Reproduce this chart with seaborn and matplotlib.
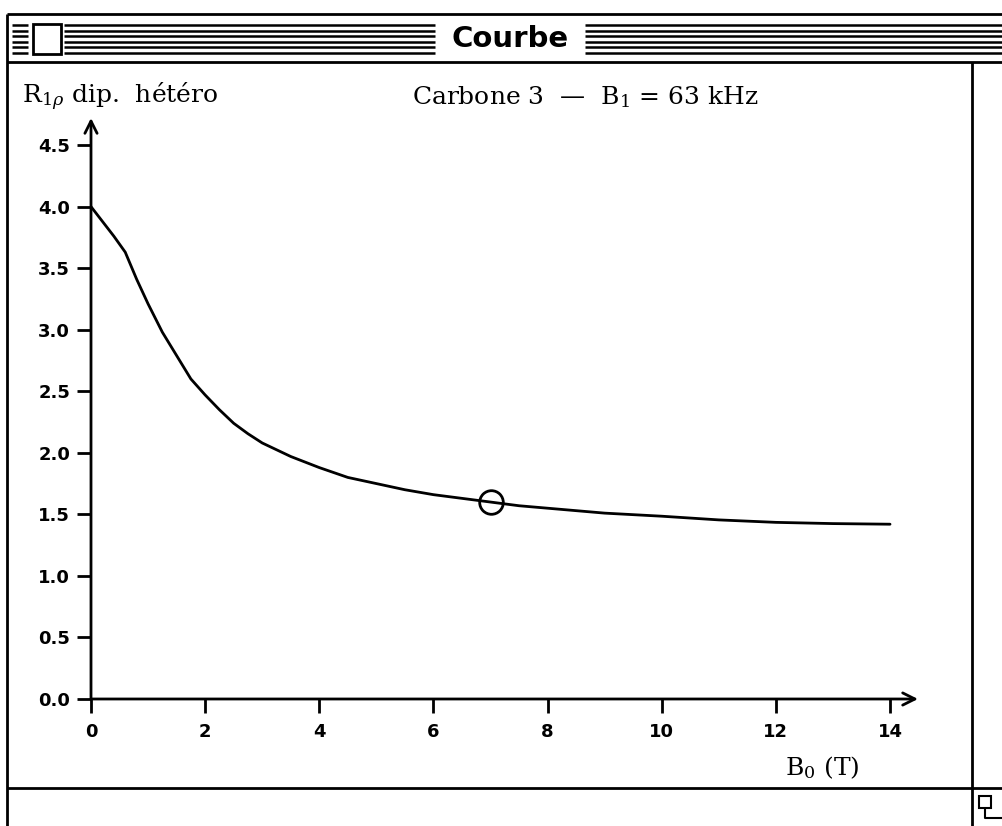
import matplotlib
matplotlib.use('Agg')
import matplotlib.pyplot as plt
from matplotlib.patches import Rectangle
import seaborn as sns
import pandas as pd

# Courbe R1rho dipolaire hetero vs champ B0
b0_tesla = [0, 0.4, 0.6, 0.8, 1.0, 1.25, 1.5, 1.75, 2.0, 2.25, 2.5, 2.75, 3.0, 3.5,
            4, 4.5, 5, 5.5, 6, 6.5, 7, 7.5, 8, 9, 10, 11, 12, 13, 14]
r1rho = [4.0, 3.76, 3.63, 3.41, 3.21, 2.98, 2.79, 2.60, 2.47, 2.35, 2.24, 2.155, 2.08, 1.97,
         1.88, 1.80, 1.75, 1.70, 1.66, 1.63, 1.60, 1.57, 1.55, 1.51, 1.485, 1.455, 1.435, 1.425, 1.42]
point_b0 = [7.0]
point_r = [1.6]
x_ticks = [0, 2, 4, 6, 8, 10, 12, 14]
y_ticks = [0.0, 0.5, 1.0, 1.5, 2.0, 2.5, 3.0, 3.5, 4.0, 4.5]

sns.set_style('white')
plt.rcParams['font.family'] = ['DejaVu Sans']
plt.rcParams['mathtext.fontset'] = 'dejavuserif'
plt.rcParams['text.color'] = 'black'

W, H = 1002, 826
fig = plt.figure(figsize=(W / 100, H / 100), dpi=100)

# zone du graphe (pixels: origine en 91,699 ; fleches jusqu'a 918 et 118)
ax = fig.add_axes([91 / W, (H - 699) / H, 827 / W, 581 / H])
ax.patch.set_alpha(0)

df = pd.DataFrame({'B0': b0_tesla, 'R': r1rho})
sns.lineplot(data=df, x='B0', y='R', color='black', linewidth=2, ax=ax)
ax.plot(point_b0, point_r, marker='o', markersize=17, markerfacecolor='none',
        markeredgecolor='black', markeredgewidth=2, linestyle='none')

ax.set_xlim(0, 14.49)
ax.set_ylim(0, 4.72)
ax.set_xticks(x_ticks)
ax.set_yticks(y_ticks)
ax.set_xticklabels([str(t) for t in x_ticks])
ax.set_yticklabels([f'{t:.1f}' for t in y_ticks])
ax.set_xlabel('')
ax.set_ylabel('')
for s in ax.spines.values():
    s.set_visible(False)
ax.tick_params(axis='x', direction='out', length=10, width=2, pad=7, labelsize=13,
               bottom=True, colors='black')
ax.tick_params(axis='y', direction='out', length=10, width=2, pad=5, labelsize=13,
               left=True, colors='black')
for lab in ax.get_xticklabels() + ax.get_yticklabels():
    lab.set_fontweight('bold')

# axes avec fleches
arrow = dict(arrowstyle='->', lw=2, color='black', shrinkA=0, shrinkB=0, mutation_scale=22)
ax.annotate('', xy=(1, 0), xytext=(0, 0), xycoords='axes fraction', arrowprops=arrow)
ax.annotate('', xy=(0, 1), xytext=(0, 0), xycoords='axes fraction', arrowprops=arrow)

# fenetre "Courbe" (style Mac)
win = fig.add_axes([0, 0, 1, 1])
win.set_xlim(0, W)
win.set_ylim(H, 0)
win.axis('off')
win.patch.set_alpha(0)
k = dict(color='black', lw=2, solid_capstyle='butt')
win.plot([7, W], [14, 14], **k)
win.plot([7, W], [62, 62], **k)
win.plot([7, 7], [14, H], **k)
win.plot([972, 972], [62, H], **k)
win.plot([7, W], [788, 788], **k)
for y in [25, 30.5, 36, 41.5, 47, 52.5]:
    for x0, x1 in [(12, 28), (64, 435), (585, W)]:
        win.plot([x0, x1], [y, y], color='black', lw=1.8, solid_capstyle='butt')
win.add_patch(Rectangle((33, 24), 28, 30, facecolor='white', edgecolor='black', lw=2))
win.text(510, 39, 'Courbe', ha='center', va='center', fontsize=21, fontweight='bold',
         color='black')
win.add_patch(Rectangle((979, 796), 12, 12, facecolor='none', edgecolor='black', lw=1.5))
win.plot([985, 985, W], [808, 818, 818], color='black', lw=1.5)

# textes du graphe
serif = ['DejaVu Serif']
win.text(22, 97, r'R$_{1\rho}$ dip.  hétéro', ha='left', va='center', fontsize=18,
         family=serif, color='black')
win.text(585, 97, r'Carbone 3  —  B$_1$ = 63 kHz', ha='center', va='center', fontsize=18,
         family=serif, color='black')
win.text(822, 768, r'B$_0$ (T)', ha='center', va='center', fontsize=18, family=serif,
         color='black')

fig.savefig('out.png', dpi=100)
